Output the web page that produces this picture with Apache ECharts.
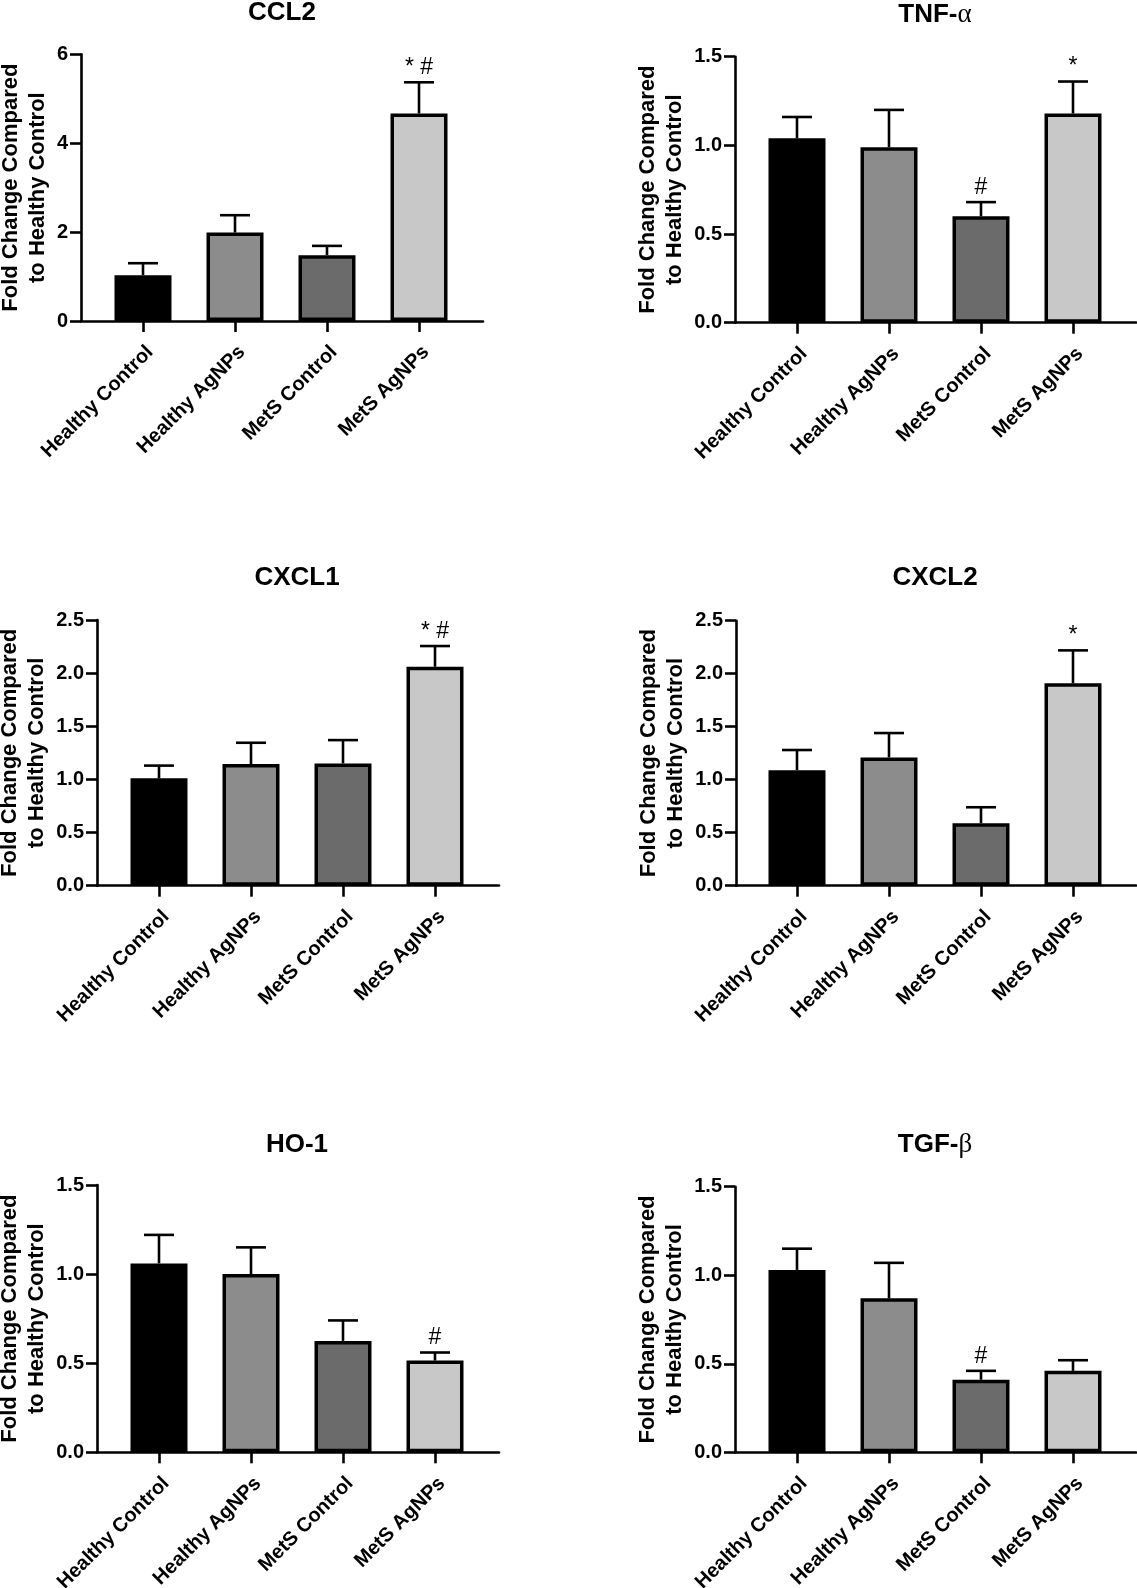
<!DOCTYPE html>
<html><head><meta charset="utf-8">
<script src="https://cdn.jsdelivr.net/npm/echarts@6/dist/echarts.min.js"></script>
<style>html,body{margin:0;padding:0;background:#fff}#c{width:1137px;height:1588px}</style>
</head><body><div id="c"></div>
<script>
// ---- data ----
const categories = ['Healthy Control', 'Healthy AgNPs', 'MetS Control', 'MetS AgNPs'];
const barColors = ['#000000', '#8c8c8c', '#6b6b6b', '#c8c8c8'];
const yAxisTitle = 'Fold Change Compared\nto Healthy Control';

const ccl2Mean = [1.03, 1.99, 1.48, 4.67];
const ccl2Sem  = [0.27, 0.39, 0.21, 0.70];
const ccl2Sig  = ['', '', '', '* #'];
const ccl2Ticks = [0, 6, 2];

const tnfMean = [1.04, 0.99, 0.60, 1.18];
const tnfSem  = [0.12, 0.21, 0.08, 0.18];
const tnfSig  = ['', '', '#', '*'];
const tnfTicks = [0, 1.5, 0.5];

const cxcl1Mean = [1.01, 1.145, 1.15, 2.06];
const cxcl1Sem  = [0.12, 0.20, 0.22, 0.195];
const cxcl1Sig  = ['', '', '', '* #'];
const cxcl1Ticks = [0, 2.5, 0.5];

const cxcl2Mean = [1.09, 1.21, 0.59, 1.91];
const cxcl2Sem  = [0.19, 0.23, 0.15, 0.31];
const cxcl2Sig  = ['', '', '', '*'];
const cxcl2Ticks = [0, 2.5, 0.5];

const ho1Mean = [1.06, 1.00, 0.625, 0.515];
const ho1Sem  = [0.16, 0.15, 0.115, 0.045];
const ho1Sig  = ['', '', '', '#'];
const ho1Ticks = [0, 1.5, 0.5];

const tgfMean = [1.03, 0.87, 0.41, 0.46];
const tgfSem  = [0.12, 0.20, 0.05, 0.06];
const tgfSig  = ['', '', '#', ''];
const tgfTicks = [0, 1.5, 0.5];

const panels = [
  {title: 'CCL2', mean: ccl2Mean, sem: ccl2Sem, sig: ccl2Sig, ticks: ccl2Ticks, dec: 0},
  {title: 'TNF-{g|α}', mean: tnfMean, sem: tnfSem, sig: tnfSig, ticks: tnfTicks, dec: 1},
  {title: 'CXCL1', mean: cxcl1Mean, sem: cxcl1Sem, sig: cxcl1Sig, ticks: cxcl1Ticks, dec: 1},
  {title: 'CXCL2', mean: cxcl2Mean, sem: cxcl2Sem, sig: cxcl2Sig, ticks: cxcl2Ticks, dec: 1},
  {title: 'HO-1', mean: ho1Mean, sem: ho1Sem, sig: ho1Sig, ticks: ho1Ticks, dec: 1},
  {title: 'TGF-{g|β}', mean: tgfMean, sem: tgfSem, sig: tgfSig, ticks: tgfTicks, dec: 1}
];

// ---- layout (pixels) ----
const layout = [
  {axisX: 81,  right: 483,  innerLeft: 97,  top: 54.3,   bottom: 321,    nameGap: 30, titleX: 282, titleY: 13},
  {axisX: 735, right: 1136, innerLeft: 751, top: 56.7,   bottom: 322.7,  nameGap: 47, titleX: 935, titleY: 15},
  {axisX: 97,  right: 499,  innerLeft: 113, top: 620,    bottom: 885.7,  nameGap: 47, titleX: 297, titleY: 577.5},
  {axisX: 736, right: 1136, innerLeft: 751, top: 620.7,  bottom: 885.7,  nameGap: 47, titleX: 935, titleY: 578},
  {axisX: 97,  right: 499,  innerLeft: 113, top: 1185,   bottom: 1452.3, nameGap: 47, titleX: 297, titleY: 1144.5},
  {axisX: 735, right: 1136, innerLeft: 751, top: 1186.7, bottom: 1452.3, nameGap: 47, titleX: 935, titleY: 1145}
];
const innerWidth = 368;
const FONT = '"Liberation Sans", Arial, sans-serif';
const LW = 2.6;

const grid = [], xAxis = [], yAxis = [], series = [], graphic = [];
panels.forEach((p, k) => {
  const L = layout[k];
  const h = L.bottom - L.top;
  grid.push({left: L.axisX, top: L.top, width: L.right - L.axisX, height: h, outerBoundsMode: 'none', containLabel: false});
  grid.push({left: L.innerLeft, top: L.top, width: innerWidth, height: h, outerBoundsMode: 'none', containLabel: false});
  const go = 2 * k, gi = 2 * k + 1;
  xAxis.push({gridIndex: go, type: 'value', min: 0, max: 1,
    axisLine: {show: true, lineStyle: {color: '#000', width: LW}},
    axisTick: {show: false}, axisLabel: {show: false}, splitLine: {show: false}});
  xAxis.push({gridIndex: gi, type: 'category', data: categories,
    axisLine: {show: false},
    axisTick: {show: true, alignWithLabel: true, length: 11, lineStyle: {color: '#000', width: LW}},
    axisLabel: {interval: 0, rotate: 45, margin: 21, verticalAlign: 'top', color: '#000', fontFamily: FONT, fontWeight: 'bold', fontSize: 20},
    splitLine: {show: false}});
  yAxis.push({gridIndex: go, type: 'value', min: p.ticks[0], max: p.ticks[1], interval: p.ticks[2],
    axisLine: {show: true, lineStyle: {color: '#000', width: LW}},
    axisTick: {show: true, length: 11, lineStyle: {color: '#000', width: LW}},
    axisLabel: {margin: 13, color: '#000', fontFamily: FONT, fontWeight: 'bold', fontSize: 20,
      formatter: v => v.toFixed(p.dec)},
    splitLine: {show: false},
    name: yAxisTitle, nameLocation: 'middle', nameGap: L.nameGap,
    nameTextStyle: {color: '#000', fontFamily: FONT, fontWeight: 'bold', fontSize: 22, lineHeight: 27, align: 'center'}});
  yAxis.push({gridIndex: gi, type: 'value', min: p.ticks[0], max: p.ticks[1], show: false});

  series.push({type: 'bar', xAxisIndex: gi, yAxisIndex: gi, barWidth: 57, z: 3,
    data: p.mean.map((v, i) => ({value: v, itemStyle: {color: barColors[i]}})),
    itemStyle: {borderColor: '#000', borderWidth: 3.5}, silent: true});
  series.push({type: 'custom', xAxisIndex: gi, yAxisIndex: gi, z: 4, clip: false, silent: true,
    data: p.mean.map((v, i) => [i, v, p.sem[i]]),
    renderItem: (params, api) => {
      const i = api.value(0), m = api.value(1), s = api.value(2);
      const p0 = api.coord([i, m]), p1 = api.coord([i, m + s]);
      const children = [
        {type: 'line', shape: {x1: p0[0], y1: p0[1], x2: p1[0], y2: p1[1]}, style: {stroke: '#000', lineWidth: LW}},
        {type: 'line', shape: {x1: p1[0] - 15, y1: p1[1], x2: p1[0] + 15, y2: p1[1]}, style: {stroke: '#000', lineWidth: LW}}
      ];
      const lab = p.sig[params.dataIndex];
      if (lab) children.push({type: 'text', style: {text: lab, x: p1[0], y: p1[1] - 3,
        textAlign: 'center', textVerticalAlign: 'bottom', fontFamily: FONT, fontSize: 23, fill: '#000'}});
      return {type: 'group', children};
    }});
  graphic.push({type: 'text', x: L.titleX, y: L.titleY, style: {
    text: p.title, textAlign: 'center', textVerticalAlign: 'middle',
    fontFamily: FONT, fontWeight: 'bold', fontSize: 26, fill: '#000',
    rich: {g: {fontFamily: '"Liberation Serif", "Times New Roman", serif', fontSize: 27, fontWeight: 'normal', fill: '#000'}}
  }});
});

const chart = echarts.init(document.getElementById('c'), null, {renderer: 'canvas'});
chart.setOption({animation: false, backgroundColor: '#fff', grid, xAxis, yAxis, series, graphic});
</script>
</body></html>
